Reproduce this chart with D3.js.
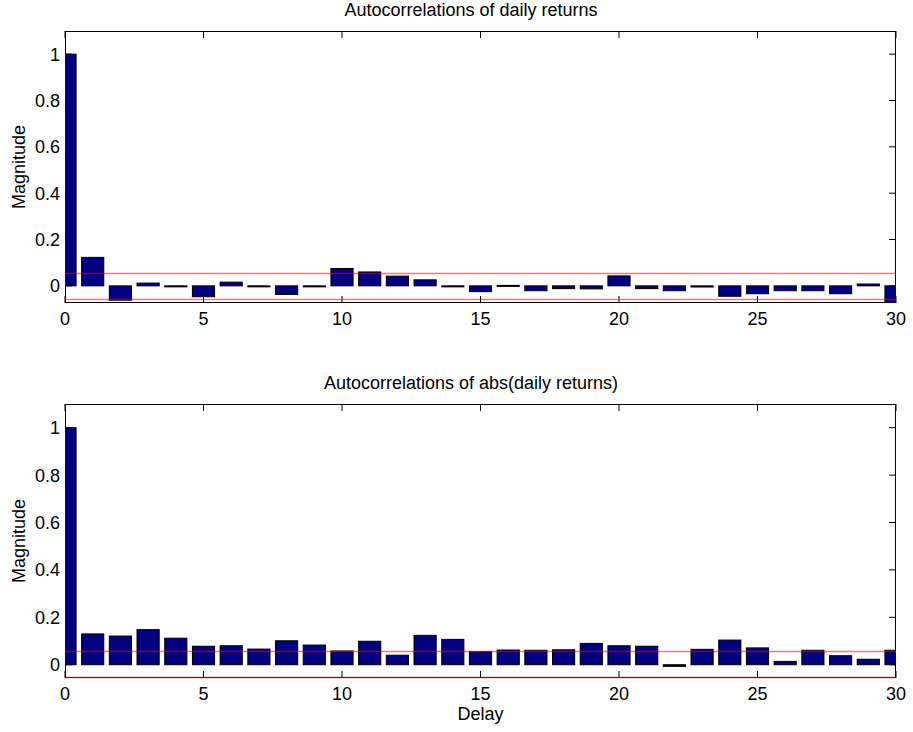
<!DOCTYPE html>
<html>
<head>
<meta charset="utf-8">
<script src="https://cdn.jsdelivr.net/npm/d3@7"></script>
<style>
  body { margin: 0; background: #fff; }
  svg { display: block; font-family: "Liberation Sans", Arial, sans-serif; }
</style>
</head>
<body>
<svg width="913" height="732"></svg>
<script>
// -------------------- Data --------------------
const lags = [0, 1, 2, 3, 4, 5, 6, 7, 8, 9, 10, 11, 12, 13, 14, 15, 16, 17, 18, 19, 20,
  21, 22, 23, 24, 25, 26, 27, 28, 29, 30];

// autocorrelations of daily returns
const acfReturns = [1, 0.123, -0.062, 0.012, -0.002, -0.047, 0.016, -0.002, -0.037, -0.004,
  0.075, 0.060, 0.042, 0.026, -0.002, -0.025, 0.002, -0.021, -0.012, -0.013,
  0.043, -0.012, -0.021, -0.005, -0.045, -0.034, -0.021, -0.021, -0.034, 0.008, -0.08];

// autocorrelations of abs(daily returns)
const acfAbs = [1, 0.130, 0.121, 0.148, 0.112, 0.078, 0.080, 0.066, 0.101, 0.083,
  0.058, 0.099, 0.040, 0.124, 0.107, 0.055, 0.062, 0.061, 0.063, 0.090,
  0.080, 0.078, -0.007, 0.065, 0.104, 0.071, 0.014, 0.061, 0.038, 0.023, 0.061];

const confBound = 0.056;
const xTicks = [0, 5, 10, 15, 20, 25, 30];
const yTicks = [0, 0.2, 0.4, 0.6, 0.8, 1];

const panels = [
  { title: "Autocorrelations of daily returns", values: acfReturns, yMin: -0.074, top: 31, bottom: 303, xlabel: null },
  { title: "Autocorrelations of abs(daily returns)", values: acfAbs, yMin: -0.056, top: 404, bottom: 678, xlabel: "Delay" }
];

// -------------------- SVG Code --------------------
const svg = d3.select("svg");
const left = 65, right = 896;
const tickLen = 7;
const fontSize = 18;

const x = d3.scaleLinear().domain([0, 30]).range([left, right]);

panels.forEach((p, pi) => {
  const y = d3.scaleLinear().domain([p.yMin, 1.1]).range([p.bottom, p.top]);
  const g = svg.append("g");

  const clipId = "clip" + pi;
  svg.append("clipPath").attr("id", clipId)
    .append("rect")
    .attr("x", left).attr("y", p.top)
    .attr("width", right - left).attr("height", p.bottom - p.top);

  // ticks (inside, all four sides)
  xTicks.forEach(t => {
    g.append("line").attr("x1", x(t)).attr("x2", x(t))
      .attr("y1", p.bottom).attr("y2", p.bottom - tickLen)
      .attr("stroke", "#000");
    g.append("line").attr("x1", x(t)).attr("x2", x(t))
      .attr("y1", p.top).attr("y2", p.top + tickLen)
      .attr("stroke", "#000");
  });
  yTicks.forEach(t => {
    g.append("line").attr("x1", left).attr("x2", left + tickLen)
      .attr("y1", y(t)).attr("y2", y(t)).attr("stroke", "#000");
    g.append("line").attr("x1", right).attr("x2", right - tickLen)
      .attr("y1", y(t)).attr("y2", y(t)).attr("stroke", "#000");
  });

  // axes box
  g.append("rect")
    .attr("x", left + 0.5).attr("y", p.top + 0.5)
    .attr("width", right - left - 1).attr("height", p.bottom - p.top - 1)
    .attr("fill", "none").attr("stroke", "#000");

  // bars
  const barW = (x(0.8) - x(0));
  g.append("g").attr("clip-path", `url(#${clipId})`)
    .selectAll("rect")
    .data(lags)
    .enter().append("rect")
    .attr("x", d => x(d) - barW / 2)
    .attr("y", (d, i) => y(Math.max(0, p.values[i])))
    .attr("width", barW)
    .attr("height", (d, i) => Math.max(1, Math.abs(y(p.values[i]) - y(0))))
    .attr("fill", "#000080")
    .attr("stroke", "#000")
    .attr("stroke-width", 1);

  // confidence lines
  [confBound, -confBound].forEach(c => {
    const yy = Math.min(Math.round(y(c)) + 0.5, p.bottom - 0.5);
    g.append("line")
      .attr("x1", left).attr("x2", right)
      .attr("y1", yy).attr("y2", yy)
      .attr("stroke", "#ff0000").attr("stroke-opacity", 0.55)
      .attr("stroke-width", 1.3);
  });

  // tick labels
  xTicks.forEach(t => {
    g.append("text").attr("x", x(t)).attr("y", p.bottom + 22)
      .attr("text-anchor", "middle").attr("font-size", fontSize)
      .text(d3.format("~g")(t));
  });
  yTicks.forEach(t => {
    g.append("text").attr("x", left - 5).attr("y", y(t))
      .attr("dy", "0.36em")
      .attr("text-anchor", "end").attr("font-size", fontSize)
      .text(d3.format("~g")(t));
  });

  // title and axis labels
  g.append("text").attr("x", 471).attr("y", p.top - 15)
    .attr("text-anchor", "middle").attr("font-size", fontSize)
    .text(p.title);

  g.append("text")
    .attr("transform", `translate(25,${(p.top + p.bottom) / 2}) rotate(-90)`)
    .attr("text-anchor", "middle").attr("font-size", fontSize)
    .text("Magnitude");

  if (p.xlabel) {
    g.append("text").attr("x", (left + right) / 2).attr("y", p.bottom + 42)
      .attr("text-anchor", "middle").attr("font-size", fontSize)
      .text(p.xlabel);
  }
});
</script>
</body>
</html>
